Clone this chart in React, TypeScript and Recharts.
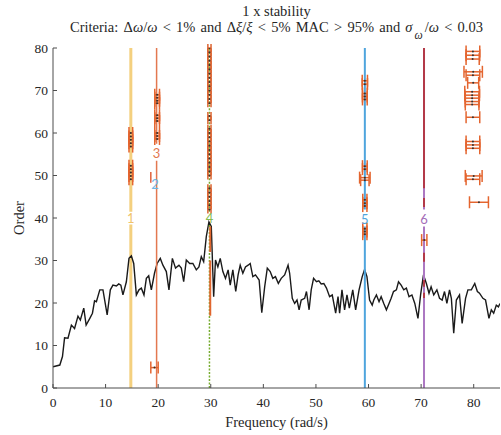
import React from 'react';
import { ComposedChart, Line, Scatter, ErrorBar, XAxis, YAxis } from 'recharts';

// spectrum (black curve)
const specFreq = [0, 1.3, 1.8, 2.2, 2.85, 3.5, 4.1, 4.75, 5.2, 5.85, 6.3, 7.0, 7.5, 7.9, 8.25, 8.9, 9.5, 10.3, 10.9, 11.4,
  12.05, 12.5, 12.9, 13.3, 13.95, 14.45, 14.9, 15.35, 15.85, 16.35, 16.8, 17.3, 17.75, 18.2, 18.7, 19.3, 19.8, 20.4, 20.9, 21.55,
  22.05, 22.7, 23.3, 23.95, 24.4, 24.85, 25.35, 26.0, 26.6, 27.25, 27.75, 28.2, 28.65, 29.15, 29.65, 30.1, 30.55, 30.9, 31.35, 31.8,
  32.3, 32.8, 33.3, 33.7, 34.2, 34.75, 35.2, 35.6, 36.1, 36.6, 37.1, 37.5, 38.0, 38.5, 39.2, 39.7, 40.25, 40.75, 41.3, 41.8,
  42.3, 42.85, 43.4, 44.05, 44.7, 45.0, 45.5, 45.95, 46.4, 46.8, 47.2, 47.85, 48.2, 48.7, 49.1, 49.55, 50.1, 50.55, 51.0, 51.5,
  52.0, 52.6, 53.1, 53.75, 54.2, 54.5, 54.95, 55.45, 55.9, 56.35, 57.0, 57.55, 58.2, 58.8, 59.25, 59.7, 60.2, 60.7, 61.0, 61.5,
  62.0, 62.4, 62.9, 63.4, 63.9, 64.3, 64.75, 65.3, 65.7, 66.2, 66.7, 67.2, 67.7, 68.25, 68.8, 69.4, 69.9, 70.45, 71.0, 71.5,
  71.9, 72.4, 73.0, 73.5, 74.0, 74.45, 74.9, 75.4, 75.75, 76.2, 76.7, 77.3, 77.8, 78.45, 78.9, 79.55, 80.2, 80.7, 81.1, 81.75,
  82.25, 82.9, 83.35, 83.8, 84.3, 84.7, 85.0];
const specVal = [5.0, 5.4, 7.4, 11.8, 11.7, 14.8, 14.0, 16.9, 16.0, 18.8, 14.8, 16.4, 17.6, 20.5, 20.3, 23.1, 23.1, 17.2, 23.1, 24.2,
  24.0, 24.5, 24.2, 21.9, 25.0, 30.5, 31.1, 29.3, 21.9, 23.1, 23.5, 21.9, 25.8, 26.4, 23.1, 27.0, 29.3, 30.5, 28.9, 27.4,
  23.1, 30.5, 28.2, 28.9, 28.2, 25.0, 30.1, 29.3, 29.3, 27.8, 28.5, 30.9, 29.7, 35.6, 39.1, 38.0, 21.5, 30.1, 28.5, 30.5,
  27.4, 25.8, 27.8, 24.2, 27.8, 22.7, 26.6, 28.9, 27.0, 28.5, 28.9, 29.3, 26.2, 26.6, 25.4, 17.7, 23.8, 28.2, 27.4, 25.8,
  26.2, 24.6, 25.8, 26.6, 28.9, 27.0, 21.1, 19.9, 20.7, 18.4, 20.7, 21.1, 22.7, 18.4, 23.1, 25.8, 25.0, 25.2, 24.5, 24.6,
  23.5, 21.5, 21.9, 17.6, 21.5, 17.6, 23.1, 18.4, 21.9, 18.8, 23.1, 18.4, 23.1, 26.2, 27.9, 26.2, 20.7, 19.5, 20.7, 21.9,
  20.3, 21.5, 19.9, 18.4, 19.9, 21.1, 22.7, 23.1, 25.0, 24.2, 23.1, 23.5, 21.5, 21.9, 19.9, 16.4, 21.9, 26.6, 24.6, 22.3,
  23.8, 21.9, 23.1, 21.1, 20.7, 22.7, 19.9, 23.1, 21.1, 12.9, 20.7, 21.9, 15.2, 21.1, 23.1, 23.1, 24.6, 22.7, 22.3, 21.1,
  20.7, 16.4, 18.4, 17.6, 19.5, 19.1, 19.9];

// mode frequencies and their labels
const modeFreq = [14.8, 19.4, 19.7, 29.75, 59.3, 70.55];
const modeLabel = ['1', '2', '3', '4', '5', '6'];
const modeLabelOrder = [40, 48, 55.3, 40, 39.8, 39.8];

// stable-pole line segments (order ranges) per mode
const mode1Segs = [[0, 38.5], [41.5, 80]];
const mode2Segs = [[48.3, 50.8]];
const mode2Freq = 18.6;
const mode3Segs = [[0, 53.5], [57.5, 80]];
const mode4Segs = [[0, 38.5], [41.5, 80]];
const mode4bSegs = [[17, 30], [32, 38]];
const mode4bFreq = 29.9;
const mode5Segs = [[0, 38], [42, 80]];
const mode6Segs = [[0, 38], [42, 80]];
const mode6bSegs = [[21.2, 22.4], [23.8, 25.4], [29.7, 31.8], [42.6, 44.7], [47, 80]];

// poles with frequency scatter (orders, half-width)
const m1Orders = [60, 59.2, 58.4, 57.6, 56.8, 52.3, 51.5, 50.7, 49.9, 49.1];
const m1Err = 0.35;
const m3Orders = [69, 68.3, 67.6, 67, 64.2, 63.5, 62.8, 60, 59.3, 58.6];
const m3Err = 0.45;
const m4Orders = [80, 79, 78, 77, 76, 75, 74, 73, 72, 71, 70, 69, 68, 67, 64, 63, 61, 60, 59, 58, 57, 56,
  55, 54, 53, 52, 51, 50, 47, 46, 45, 44, 43, 42];
const m4Err = 0.3;
const m5Orders = [72.3, 71.5, 69.3, 68.6, 67.9, 52.2, 51.5, 49.5, 48.9, 44.3, 43.5, 42.8, 37.5, 36.8, 36.2];
const m5Err = [0.5, 0.5, 0.45, 0.45, 0.45, 0.45, 0.45, 1.0, 0.8, 0.4, 0.4, 0.4, 0.4, 0.4, 0.4];
const extraF = [19.3, 70.6];
const extraO = [4.8, 34.8];
const extraE = [0.7, 0.5];
const rcF = [79.85, 79.85, 79.8, 79.9, 79.85, 79.9, 79.7, 79.7, 79.7, 79.7, 79.7, 79.85, 79.85, 79.85, 79.85, 80.0, 79.85, 81.0];
const rcO = [79.2, 78.3, 77.4, 74.4, 73.6, 71.8, 69.7, 68.9, 68.2, 67.4, 66.7, 63.7, 58.0, 57.2, 56.4, 49.9, 49.1, 43.7];
const rcE = [1.3, 1.3, 1.25, 1.75, 1.3, 1.05, 1.4, 1.4, 1.3, 1.3, 1.3, 1.3, 1.3, 1.3, 1.3, 1.6, 1.3, 1.8];

const xTicks = [0, 10, 20, 30, 40, 50, 60, 70, 80];
const yTicks = [0, 10, 20, 30, 40, 50, 60, 70, 80];

const spectrum = specFreq.map((f, i) => ({ f, o: specVal[i] }));

const segLine = (f: number, segs: number[][]) => {
  const pts: { f: number; o: number | null }[] = [];
  segs.forEach((s, i) => {
    if (i) pts.push({ f, o: null });
    pts.push({ f, o: s[0] }, { f, o: s[1] });
  });
  return pts;
};

const poles = [
  ...m1Orders.map((o) => ({ f: modeFreq[0], o, e: m1Err })),
  ...m3Orders.map((o) => ({ f: 19.8, o, e: m3Err })),
  ...m5Orders.map((o, i) => ({ f: modeFreq[4], o, e: m5Err[i] })),
  ...extraF.map((f, i) => ({ f, o: extraO[i], e: extraE[i] })),
  ...rcF.map((f, i) => ({ f, o: rcO[i], e: rcE[i] })),
];
const poles4 = m4Orders.map((o) => ({ f: modeFreq[3], o, e: m4Err }));

const SERIF = '"Liberation Serif", "Times New Roman", serif';
const AX = '#4d4d4d';
const TXT = '#262626';
const labelColors = ['#F0C36A', '#6DB6E6', '#E37850', '#86BB4E', '#4FA5DD', '#A46DB8'];

const BottomTick = (p: any) => (
  <g>
    <line x1={p.x} x2={p.x} y1={p.y} y2={p.y - 4} stroke={AX} />
    <text x={p.x} y={p.y + 19} textAnchor="middle" fontFamily={SERIF} fontSize={13.5} fill={TXT}>
      {p.payload.value}
    </text>
  </g>
);
const TopTick = (p: any) => <line x1={p.x} x2={p.x} y1={p.y} y2={p.y + 4} stroke={AX} />;
const LeftTick = (p: any) => (
  <g>
    <line x1={p.x} x2={p.x + 4} y1={p.y} y2={p.y} stroke={AX} />
    <text x={p.x - 5} y={p.y + 4.5} textAnchor="end" fontFamily={SERIF} fontSize={13.5} fill={TXT}>
      {p.payload.value}
    </text>
  </g>
);
const RightTick = (p: any) => <line x1={p.x} x2={p.x - 4} y1={p.y} y2={p.y} stroke={AX} />;

const PoleDot = (p: any) => <circle cx={p.cx} cy={p.cy} r={1} fill="#333" />;

const modeLabelShape = (i: number) => (p: any) => (
  <text x={p.cx} y={p.cy + 5} textAnchor="middle" fontFamily="Lato, sans-serif" fontSize={13} fill={labelColors[i]}>
    {modeLabel[i]}
  </text>
);

const I = ({ children }: { children: React.ReactNode }) => <i>{children}</i>;

export default function App() {
  return (
    <div style={{ position: 'absolute', left: 0, top: 0, width: 501, height: 435, fontFamily: SERIF, color: TXT }}>
      <div style={{ position: 'absolute', left: 0, width: 553, top: 3, textAlign: 'center', fontSize: 14.5, lineHeight: '17px' }}>
        1 x stability
      </div>
      <div style={{ position: 'absolute', left: 0, width: 553, top: 19, textAlign: 'center', fontSize: 14.5, lineHeight: '17px', whiteSpace: 'nowrap', wordSpacing: 1.6 }}>
        Criteria: Δ<I>ω</I>/<I>ω</I> &lt; 1% and Δ<I>ξ</I>/<I>ξ</I> &lt; 5% MAC &gt; 95% and <I>σ</I>
        <span style={{ fontSize: '0.8em', position: 'relative', top: 7, margin: '0 2px' }}><I>ω</I></span>/<I>ω</I> &lt; 0.03
      </div>
      <ComposedChart width={501} height={435} margin={{ top: 48, right: 1, bottom: 0, left: 0 }}>
        <XAxis
          dataKey="f"
          type="number"
          domain={[0, 85]}
          ticks={xTicks}
          allowDataOverflow
          height={47}
          tickSize={0}
          tickMargin={0}
          tickLine={false}
          tick={BottomTick}
          axisLine={{ stroke: AX }}
          label={{ value: 'Frequency (rad/s)', position: 'insideBottom', offset: 8, fill: TXT, fontSize: 14.5, fontFamily: SERIF }}
        />
        <XAxis xAxisId="top" orientation="top" type="number" domain={[0, 85]} ticks={xTicks} allowDataOverflow height={0}
          tickSize={0} tickMargin={0} tickLine={false} tick={TopTick} axisLine={{ stroke: AX }} />
        <YAxis
          dataKey="o"
          type="number"
          domain={[0, 80]}
          ticks={yTicks}
          allowDataOverflow
          width={53}
          tickSize={0}
          tickMargin={0}
          tickLine={false}
          tick={LeftTick}
          axisLine={{ stroke: AX }}
          label={{ value: 'Order', angle: -90, position: 'insideLeft', offset: 19, fill: TXT, fontSize: 14.5, fontFamily: SERIF, style: { textAnchor: 'middle' } }}
        />
        <YAxis yAxisId="right" orientation="right" type="number" domain={[0, 80]} ticks={yTicks} allowDataOverflow width={0}
          tickSize={0} tickMargin={0} tickLine={false} tick={RightTick} axisLine={{ stroke: AX }} />

        <Line data={segLine(modeFreq[0], mode1Segs)} dataKey="o" stroke="#F4D07F" strokeWidth={3} dot={false} isAnimationActive={false} />
        <Line data={spectrum} dataKey="o" stroke="#1a1a1a" strokeWidth={1.4} dot={false} isAnimationActive={false} />
        <Line data={segLine(mode2Freq, mode2Segs)} dataKey="o" stroke="#E0603A" strokeWidth={1.5} dot={false} isAnimationActive={false} />
        <Line data={segLine(modeFreq[2], mode3Segs)} dataKey="o" stroke="#E37850" strokeWidth={1.5} dot={false} isAnimationActive={false} />
        <Line data={segLine(modeFreq[3], mode4Segs)} dataKey="o" stroke="#77AC30" strokeWidth={1.5} strokeDasharray="2 1.5" dot={false} isAnimationActive={false} />
        <Line data={segLine(mode4bFreq, mode4bSegs)} dataKey="o" stroke="#E0662E" strokeWidth={2} dot={false} isAnimationActive={false} />
        <Line data={segLine(modeFreq[4], mode5Segs)} dataKey="o" stroke="#4FA5DD" strokeWidth={2} dot={false} isAnimationActive={false} />
        <Line data={segLine(modeFreq[5], mode6Segs)} dataKey="o" stroke="#AC78C2" strokeWidth={2} dot={false} isAnimationActive={false} />
        <Line data={segLine(modeFreq[5], mode6bSegs)} dataKey="o" stroke="#B33A48" strokeWidth={2} dot={false} isAnimationActive={false} />

        <Scatter data={poles4} shape={PoleDot} isAnimationActive={false}>
          <ErrorBar dataKey="e" direction="x" width={4} stroke="#DC6430" strokeWidth={1.5} isAnimationActive={false} />
        </Scatter>
        <Scatter data={poles} shape={PoleDot} isAnimationActive={false}>
          <ErrorBar dataKey="e" direction="x" width={6} stroke="#E4652F" strokeWidth={1.5} isAnimationActive={false} />
        </Scatter>

        {modeFreq.map((f, i) => (
          <Scatter key={i} data={[{ f, o: modeLabelOrder[i] }]} shape={modeLabelShape(i)} isAnimationActive={false} />
        ))}
      </ComposedChart>
    </div>
  );
}
